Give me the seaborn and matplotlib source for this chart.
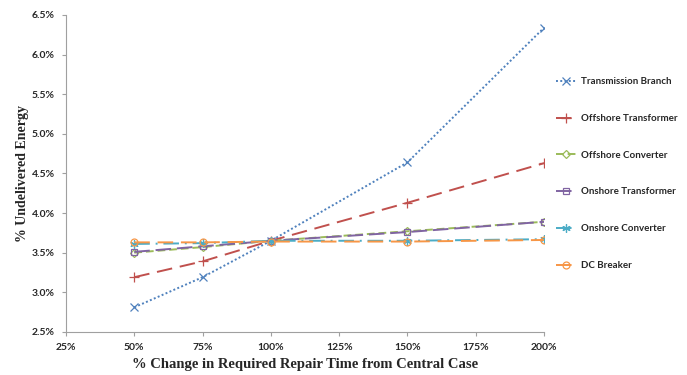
import matplotlib
matplotlib.use("Agg")
import matplotlib.pyplot as plt
import seaborn as sns
import pandas as pd
from matplotlib.ticker import FuncFormatter, MultipleLocator

repair_pct = [50, 75, 100, 150, 200]
series_names = ["Transmission Branch", "Offshore Transformer", "Offshore Converter",
                "Onshore Transformer", "Onshore Converter", "DC Breaker"]
transmission_branch = [2.81, 3.19, 3.65, 4.64, 6.34]
offshore_transformer = [3.19, 3.39, 3.65, 4.13, 4.63]
offshore_converter = [3.50, 3.57, 3.65, 3.77, 3.89]
onshore_transformer = [3.51, 3.58, 3.65, 3.76, 3.89]
onshore_converter = [3.61, 3.62, 3.65, 3.65, 3.67]
dc_breaker = [3.63, 3.63, 3.64, 3.64, 3.66]
values = [transmission_branch, offshore_transformer, offshore_converter,
          onshore_transformer, onshore_converter, dc_breaker]

colors = ["#4F81BD", "#C0504D", "#9BBB59", "#8064A2", "#4BACC6", "#F79646"]
linestyles = [(0, (1, 1.2)), (0, (8, 4)), (0, (4, 2)), (0, (8, 3)), (0, (8, 3, 1, 3)), (0, (8, 4))]
markers = ["x", "+", "D", "s", (6, 2, 0), "o"]
msizes = [6, 7, 4.5, 5, 6, 5]

rows = []
for name, vals in zip(series_names, values):
    for x, v in zip(repair_pct, vals):
        rows.append({"x": x, "y": v, "series": name})
df = pd.DataFrame(rows)

sns.set_theme(style="white")
plt.rcParams['font.family'] = ['Lato', 'DejaVu Sans']

fig = plt.figure(figsize=(6.87, 3.75), dpi=100)
ax = fig.add_axes([0.096, 0.115, 0.696, 0.845])

for name, c, ls, mk, ms in zip(series_names, colors, linestyles, markers, msizes):
    sub = df[df["series"] == name]
    sns.lineplot(data=sub, x="x", y="y", ax=ax, color=c, linestyle=ls, linewidth=1.4,
                 marker=mk, markersize=ms, markerfacecolor="none", markeredgecolor=c,
                 markeredgewidth=0.9, label=name, legend=False)

ax.set_xlim(25, 200)
ax.set_ylim(2.5, 6.5)
ax.xaxis.set_major_locator(MultipleLocator(25))
ax.yaxis.set_major_locator(MultipleLocator(0.5))
ax.xaxis.set_major_formatter(FuncFormatter(lambda v, p: f"{v:.0f}%"))
ax.yaxis.set_major_formatter(FuncFormatter(lambda v, p: f"{v:.1f}%"))
for lab in ax.get_xticklabels() + ax.get_yticklabels():
    lab.set_fontweight("bold")
    lab.set_fontsize(7.5)
ax.tick_params(axis="both", direction="out", length=3, width=0.8, color="#A0A0A0",
               bottom=True, left=True, pad=5)
for s in ["top", "right"]:
    ax.spines[s].set_visible(False)
for s in ["left", "bottom"]:
    ax.spines[s].set_color("#A0A0A0")
    ax.spines[s].set_linewidth(0.8)

ax.set_xlabel("% Change in Required Repair Time from Central Case",
              family="Liberation Serif", fontweight="bold", fontsize=10.5, labelpad=4)
ax.set_ylabel("% Undelivered Energy", family="Liberation Serif", fontweight="bold",
              fontsize=10)
ax.yaxis.set_label_coords(-0.077, 0.5)

handles, labels = ax.get_legend_handles_labels()
fig.legend(handles, labels, loc="upper left", bbox_to_anchor=(0.797, 0.817),
           frameon=False, labelspacing=2.85, handlelength=2.0, handletextpad=0.5,
           prop={"weight": "bold", "size": 7})

fig.savefig("out.png", dpi=100)
